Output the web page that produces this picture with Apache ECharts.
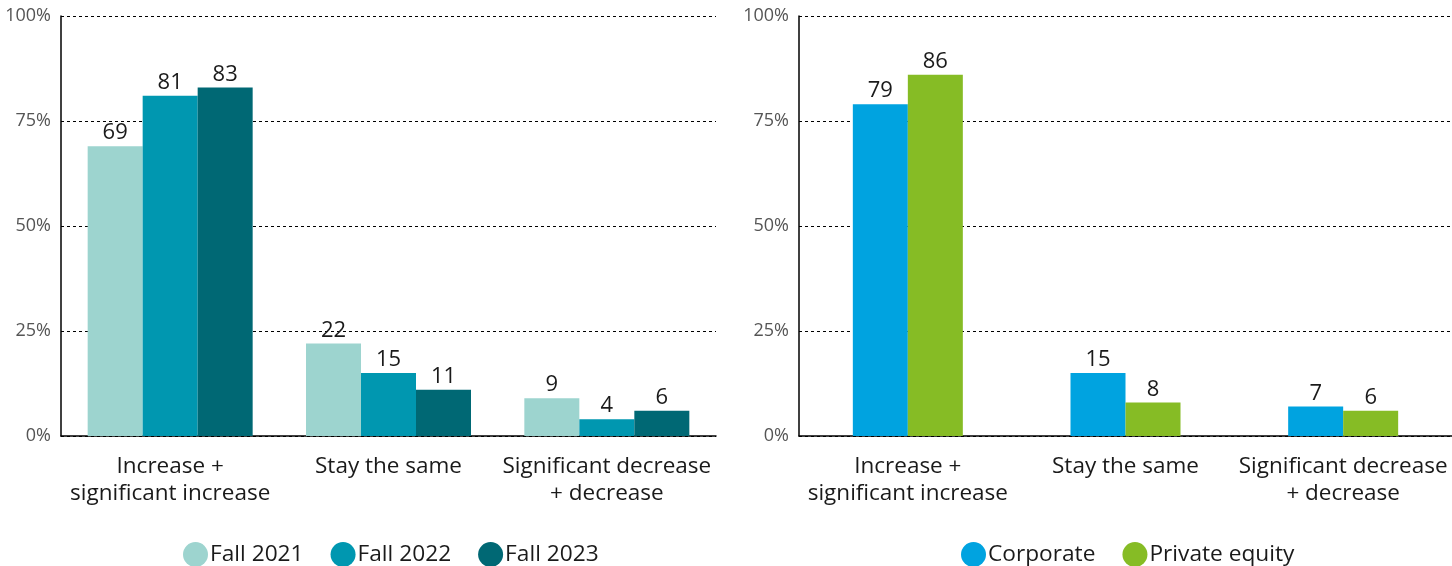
<!DOCTYPE html>
<html><head><meta charset="utf-8">
<script src="https://cdn.jsdelivr.net/npm/echarts@6/dist/echarts.min.js"></script>
<style>html,body{margin:0;padding:0;background:#fff}#c{width:1452px;height:566px}</style>
</head><body><div id="c"></div>
<script>
const categories = ['Increase +\nsignificant increase', 'Stay the same', 'Significant decrease\n+ decrease'];
const fall2021 = [69, 22, 9];
const fall2022 = [81, 15, 4];
const fall2023 = [83, 11, 6];
const corporate = [79, 15, 7];
const privateEquity = [86, 8, 6];
const yTicks = [0, 25, 50, 75, 100];

const FONT = '"Open Sans", sans-serif';
const chart = echarts.init(document.getElementById('c'));
const lbl = {show: true, position: 'top', distance: 2, color: '#1a1a1a', fontSize: 22, fontFamily: FONT};
function bar(name, data, color, idx) {
  return {name, type: 'bar', data, xAxisIndex: idx, yAxisIndex: idx, barWidth: 55, barGap: '0%',
    itemStyle: {color}, label: lbl};
}
function yAxis(idx) {
  return {type: 'value', gridIndex: idx, min: 0, max: 100, interval: 25,
    axisLabel: {formatter: v => yTicks.includes(v) ? v + '%' : '', color: '#555', fontSize: 18, fontFamily: FONT, margin: 10},
    axisLine: {show: true, lineStyle: {color: '#000', width: 1.5}}, axisTick: {show: false},
    splitLine: {show: true, lineStyle: {color: '#000', type: [3, 3], width: 1}}};
}
function xAxis(idx) {
  return {type: 'category', gridIndex: idx, data: categories,
    axisLine: {lineStyle: {color: '#000', width: 1.5}}, axisTick: {show: false},
    axisLabel: {color: '#1a1a1a', fontSize: 22.5, fontFamily: FONT, lineHeight: 27, margin: 17, interval: 0}};
}
const legendText = {fontSize: 22.7, color: '#1a1a1a', fontFamily: FONT, padding: [0, 0, 0, -3]};
chart.setOption({
  animation: false,
  grid: [
    {left: 61, width: 655, top: 16, height: 420},
    {left: 799, right: 0, top: 16, height: 420}
  ],
  xAxis: [xAxis(0), xAxis(1)],
  yAxis: [yAxis(0), yAxis(1)],
  legend: [
    {data: ['Fall 2021', 'Fall 2022', 'Fall 2023'], left: 183, top: 542, padding: 0, icon: 'circle', itemWidth: 25, itemHeight: 25, itemGap: 27,
      textStyle: legendText},
    {data: ['Corporate', 'Private equity'], left: 961, top: 542, padding: 0, icon: 'circle', itemWidth: 25, itemHeight: 25, itemGap: 27,
      textStyle: legendText}
  ],
  series: [
    bar('Fall 2021', fall2021, '#9dd4cf', 0),
    bar('Fall 2022', fall2022, '#0097b0', 0),
    bar('Fall 2023', fall2023, '#006874', 0),
    bar('Corporate', corporate, '#00a3e0', 1),
    bar('Private equity', privateEquity, '#86bc25', 1)
  ]
});
</script></body></html>
